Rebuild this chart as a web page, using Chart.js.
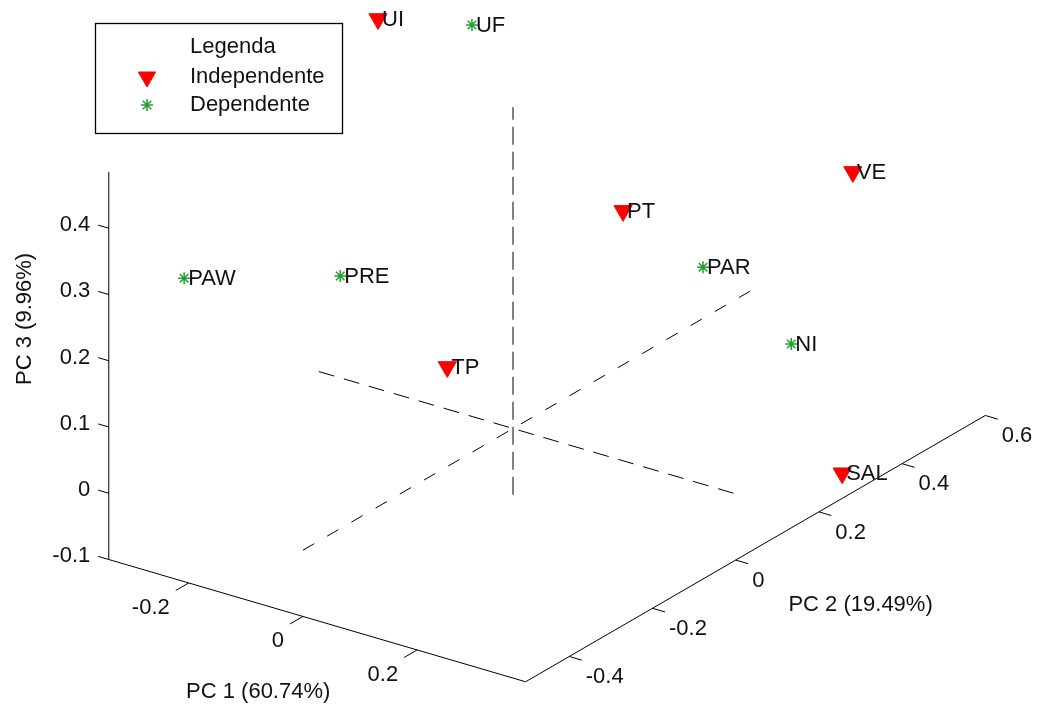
<!DOCTYPE html>
<html>
<head>
<meta charset="utf-8">
<script src="https://cdn.jsdelivr.net/npm/chart.js@4/dist/chart.umd.min.js"></script>
<style>
  html, body { margin: 0; padding: 0; background: #fff; }
  #wrap { width: 1039px; height: 706px; }
</style>
</head>
<body>
<div id="wrap"><canvas id="c" width="1039" height="706"></canvas></div>
<script>
// PCA loadings of the independent variables (PC1, PC2, PC3)
const indepNames = ['UI', 'VE', 'PT', 'TP', 'SAL'];
const indepPC1 = [-0.334, 0.158, 0.090, -0.067, 0.390];
const indepPC2 = [0.134, 0.600, 0.141, -0.066, 0.256];
const indepPC3 = [0.485, 0.209, 0.300, 0.100, -0.062];

// PCA loadings of the dependent variables (PC1, PC2, PC3)
const depNames = ['UF', 'PAW', 'PRE', 'PAR', 'NI'];
const depPC1 = [-0.246, -0.208, -0.108, 0.163, 0.287];
const depPC2 = [0.239, -0.505, -0.267, 0.233, 0.275];
const depPC3 = [0.460, 0.358, 0.300, 0.200, 0.100];

// Axis ticks and limits
const pc1Ticks = [-0.2, 0, 0.2];
const pc2Ticks = [-0.4, -0.2, 0, 0.2, 0.4, 0.6];
const pc3Ticks = [-0.1, 0, 0.1, 0.2, 0.3, 0.4];
const pc1Lim = [-0.34, 0.39];
const pc2Lim = [-0.505, 0.6];
const pc3Lim = [-0.1, 0.485];

const axisTitles = ['PC 1 (60.74%)', 'PC 2 (19.49%)', 'PC 3 (9.96%)'];
const seriesNames = ['Independente', 'Dependente'];
const legendTitle = 'Legenda';

// Oblique view: where one unit of each principal component lands on the chart plane
const view = { ox: 513, oy: 428.5, e1: [571, 167.5], e2: [416, -241], e3: [0, -662.5] };
function project(a, b, c) {
  return {
    x: view.ox + view.e1[0] * a + view.e2[0] * b + view.e3[0] * c,
    y: view.oy + view.e1[1] * a + view.e2[1] * b + view.e3[1] * c
  };
}
function segment(p, q) { return [project(p[0], p[1], p[2]), project(q[0], q[1], q[2])]; }

const FONT = '22px "Liberation Sans", Arial, sans-serif';
const TEXT = '#111';
const RED = '#ff0000';
const GREEN = '#22a02e';

const indepPoints = indepPC1.map((v, i) => Object.assign(project(v, indepPC2[i], indepPC3[i]), { name: indepNames[i] }));
const depPoints = depPC1.map((v, i) => Object.assign(project(v, depPC2[i], depPC3[i]), { name: depNames[i] }));

const lo1 = pc1Lim[0], hi1 = pc1Lim[1], lo2 = pc2Lim[0], hi2 = pc2Lim[1], lo3 = pc3Lim[0], hi3 = pc3Lim[1];

function lineSet(data, dash) {
  return {
    type: 'line', data, showLine: true, borderColor: '#000', borderWidth: 1,
    borderDash: dash || [], pointRadius: 0, fill: false, clip: false, tension: 0
  };
}

const datasets = [
  {
    label: seriesNames[0], data: indepPoints, pointStyle: 'triangle', rotation: 180,
    pointRadius: 10.5, backgroundColor: RED, borderColor: RED, borderWidth: 1, clip: false
  },
  {
    label: seriesNames[1], data: depPoints, pointStyle: 'star',
    pointRadius: 6, backgroundColor: GREEN, borderColor: GREEN, borderWidth: 1.5, clip: false
  },
  // box edges carrying the three axes
  lineSet(segment([lo1, lo2, lo3], [lo1, lo2, hi3])),
  lineSet(segment([lo1, lo2, lo3], [hi1, lo2, lo3])),
  lineSet(segment([hi1, lo2, lo3], [hi1, hi2, lo3])),
  // dashed reference lines through the origin
  lineSet(segment([lo1, 0, 0], [hi1, 0, 0]), [16, 10]),
  lineSet(segment([0, lo2, 0], [0, hi2, 0]), [13, 15]),
  lineSet(segment([0, 0, lo3], [0, 0, hi3]), [18, 7])
];

function toPx(chart, p) {
  return { x: chart.scales.x.getPixelForValue(p.x), y: chart.scales.y.getPixelForValue(p.y) };
}
function fmt(v) { return String(Math.round(v * 10) / 10); }

const decorations = {
  id: 'decorations',
  afterDatasetsDraw(chart) {
    const ctx = chart.ctx;
    ctx.save();
    ctx.font = FONT;
    ctx.fillStyle = TEXT;
    ctx.strokeStyle = '#000';
    ctx.lineWidth = 1;

    // tick mark drawn from an axis point toward another axis direction
    function tick(base, dirPt, len) {
      const a = toPx(chart, base), b = toPx(chart, dirPt);
      const dx = b.x - a.x, dy = b.y - a.y, n = Math.hypot(dx, dy);
      const end = { x: a.x + dx / n * len, y: a.y + dy / n * len };
      ctx.beginPath(); ctx.moveTo(a.x, a.y); ctx.lineTo(end.x, end.y); ctx.stroke();
      return end;
    }

    // PC3 ticks on the vertical edge
    ctx.textAlign = 'right'; ctx.textBaseline = 'middle';
    pc3Ticks.forEach(t => {
      const e = tick(project(lo1, lo2, t), project(lo1 - 0.1, lo2, t), 11);
      ctx.fillText(fmt(t), e.x - 8, e.y);
    });
    // PC1 ticks
    pc1Ticks.forEach(t => {
      const e = tick(project(t, lo2, lo3), project(t, lo2 - 0.1, lo3), 15);
      ctx.fillText(fmt(t), e.x - 6, e.y + 17);
    });
    // PC2 ticks
    ctx.textAlign = 'left';
    pc2Ticks.forEach(t => {
      const e = tick(project(hi1, t, lo3), project(hi1 + 0.1, t, lo3), 13);
      ctx.fillText(fmt(t), e.x + 4, e.y + 17);
    });

    // axis titles
    const m1 = toPx(chart, project((lo1 + hi1) / 2, lo2, lo3));
    ctx.textAlign = 'center';
    ctx.fillText(axisTitles[0], m1.x - 59, m1.y + 71);
    const m2 = toPx(chart, project(hi1, (lo2 + hi2) / 2, lo3));
    ctx.textAlign = 'left';
    ctx.fillText(axisTitles[1], m2.x + 33, m2.y + 56);
    const m3 = toPx(chart, project(lo1, lo2, 0.15));
    ctx.save();
    ctx.translate(25, m3.y - 75);
    ctx.rotate(-Math.PI / 2);
    ctx.textAlign = 'center';
    ctx.fillText(axisTitles[2], 0, 0);
    ctx.restore();

    // point names
    ctx.textAlign = 'left'; ctx.textBaseline = 'middle';
    [0, 1].forEach(di => {
      const meta = chart.getDatasetMeta(di);
      meta.data.forEach((el, i) => {
        const d = chart.data.datasets[di].data[i];
        ctx.fillText(d.name, el.x + 4, el.y + 1);
      });
    });

    // legend box
    const box = { x: 95.5, y: 23.5, w: 247, h: 110 };
    ctx.fillStyle = '#fff';
    ctx.fillRect(box.x, box.y, box.w, box.h);
    ctx.strokeStyle = '#000';
    ctx.lineWidth = 1.3;
    ctx.strokeRect(box.x, box.y, box.w, box.h);
    ctx.fillStyle = TEXT;
    ctx.textBaseline = 'alphabetic';
    ctx.fillText(legendTitle, 190, 53);
    const rows = [83, 111];
    [0, 1].forEach(di => {
      const ds = chart.data.datasets[di];
      ctx.fillStyle = ds.backgroundColor;
      ctx.strokeStyle = ds.borderColor;
      ctx.lineWidth = ds.borderWidth;
      Chart.helpers.drawPoint(ctx, {
        pointStyle: ds.pointStyle, rotation: ds.rotation || 0,
        radius: di === 0 ? 10 : 6, borderWidth: ds.borderWidth
      }, 147, rows[di] - 6);
      ctx.fillStyle = TEXT;
      ctx.fillText(ds.label, 190, rows[di]);
    });
    ctx.restore();
  }
};

new Chart(document.getElementById('c'), {
  type: 'scatter',
  data: { datasets },
  options: {
    responsive: false,
    animation: false,
    events: [],
    layout: { padding: 0, autoPadding: false },
    plugins: { legend: { display: false }, tooltip: { enabled: false } },
    scales: {
      x: { type: 'linear', min: 0, max: 1039, display: false },
      y: { type: 'linear', min: 0, max: 706, reverse: true, display: false }
    }
  },
  plugins: [decorations]
});
</script>
</body>
</html>
